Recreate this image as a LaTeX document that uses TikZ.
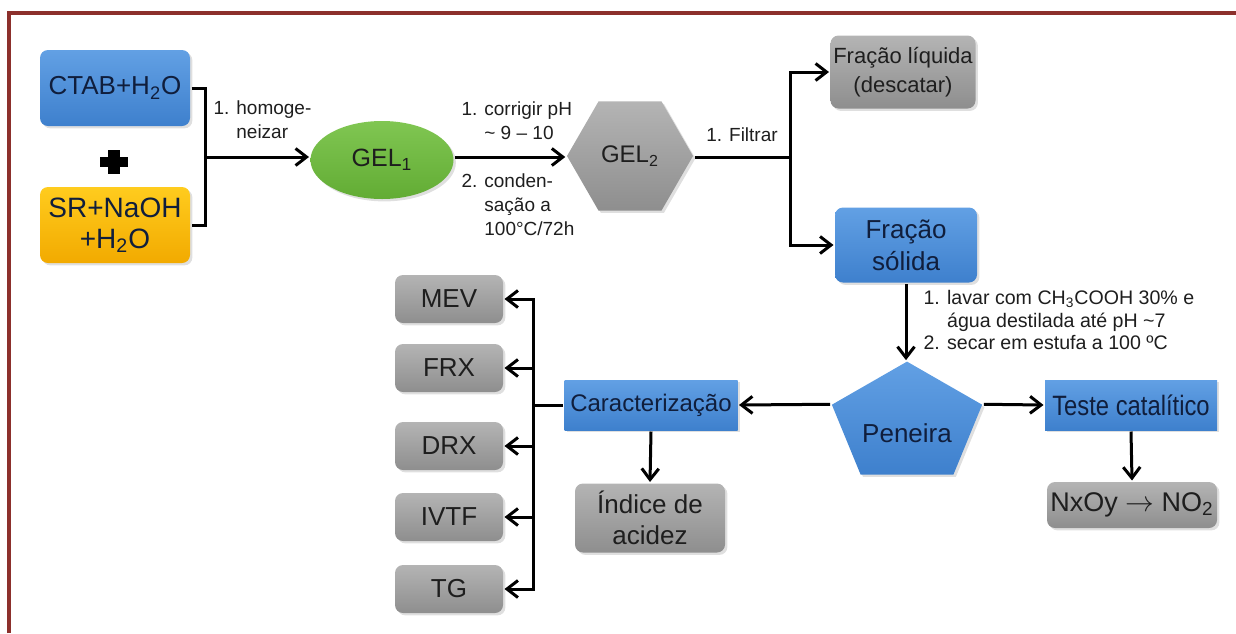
\documentclass[tikz,border=0pt]{standalone}
\usepackage{fontspec}
\setmainfont{Liberation Sans}
\newfontfamily\narrowfont[FakeStretch=0.85]{Liberation Sans}
\usetikzlibrary{shapes.geometric,positioning,arrows.meta,calc,shadows}

\definecolor{frameRed}{RGB}{140,48,44}
\definecolor{blueTop}{RGB}{98,160,228}
\definecolor{blueBot}{RGB}{62,128,205}
\definecolor{greyTop}{RGB}{180,180,180}
\definecolor{greyBot}{RGB}{142,142,142}
\definecolor{greenTop}{RGB}{128,198,82}
\definecolor{greenBot}{RGB}{98,172,52}
\definecolor{yellowTop}{RGB}{255,204,30}
\definecolor{yellowBot}{RGB}{242,170,0}
\definecolor{navyText}{RGB}{16,30,60}
\definecolor{darkText}{RGB}{30,30,30}

\begin{document}
\begin{tikzpicture}[x=0.5pt,y=0.5pt,line width=1.5pt,
	>={Straight Barb[length=5.5pt,width=8.5pt]},
	bigtext/.style={font=\fontsize{13}{15.5}\selectfont,align=center,inner sep=0pt},
	steptext/.style={font=\fontsize{9.5}{12}\selectfont,align=left,inner sep=0pt,text=darkText},
	boxshadow/.style={drop shadow={shadow xshift=1.2pt,shadow yshift=-1.2pt,opacity=0.25}},
	bluebox/.style={bigtext,boxshadow,top color=blueTop,bottom color=blueBot,text=navyText},
	greybox/.style={bigtext,boxshadow,top color=greyTop,bottom color=greyBot,text=darkText,rounded corners=4pt},
	yellowbox/.style={bigtext,boxshadow,top color=yellowTop,bottom color=yellowBot,text=navyText,rounded corners=4pt},
	greenell/.style={bigtext,boxshadow,ellipse,top color=greenTop,bottom color=greenBot,text=darkText},
	greyhex/.style={bigtext,boxshadow,regular polygon,regular polygon sides=6,top color=greyTop,bottom color=greyBot,text=darkText}]
	\useasboundingbox (0,0) rectangle (1236,-633);
	
	%% Frame
	\draw[frameRed,line width=1.6pt] (9,-633) -- (9,-13) -- (1236,-13);
	
	%% Reagents
	\node (ctab) [bluebox,rounded corners=4pt,minimum width=75pt,minimum height=38pt] at (115,-88) 
	{CTAB+H\textsubscript{2}O};
	\node (sr) [yellowbox,minimum width=75pt,minimum height=38pt,font=\fontsize{14}{15.5}\selectfont] at (115,-225) 
	{SR+NaOH\\+H\textsubscript{2}O};
	\coordinate (plus) at (114,-162);
	\fill ($(plus)+(-14,-5)$) rectangle ($(plus)+(14,5)$);
	\fill ($(plus)+(-6,-12)$) rectangle ($(plus)+(6,12)$);
	
	%% Gels
	\node (gel1) [greenell,minimum width=71.5pt,minimum height=39pt,font=\fontsize{12.5}{15}\selectfont] at (382,-160) 
	{GEL\textsubscript{1}};
	\node (gel2) [greyhex,minimum size=63pt,font=\fontsize{12}{15}\selectfont] at (630,-156) 
	{GEL\textsubscript{2}};
	
	\coordinate (merge) at (205,-157);
	\draw (ctab.east) -| (merge) |- (sr.east);
	\draw[->] (merge) -- (merge -| gel1.west);
	\node (homog) [steptext,anchor=west] at (212,-120) {1. homoge-\\\phantom{1. }neizar};
	
	\draw[->] (gel1.east |- merge) -- (gel2.west |- merge);
	\node (corr) [steptext,anchor=west] at (460,-121) {1. corrigir pH\\\phantom{1. }\textasciitilde{} 9 -- 10};
	\node (cond) [steptext,anchor=west] at (460,-205) {2. conden-\\\phantom{2. }sação a\\\phantom{2. }100°C/72h};
	
	%% Filtration
	\node (liq) [greybox,minimum width=72.5pt,minimum height=36.5pt,font=\fontsize{11}{14.5}\selectfont] at (903,-72) 
	{Fração líquida\\(descatar)};
	\node (sol) [bluebox,rounded corners=4pt,minimum width=71pt,minimum height=37.5pt,font=\fontsize{13}{16}\selectfont] at (906,-245) 
	{Fração\\sólida};
	
	\coordinate (fork) at (790,-157);
	\draw (gel2.east |- fork) -- (fork);
	\draw[->] (fork) |- (liq.west);
	\draw[->] (fork) |- (sol.west);
	\node (filt) [steptext] at (742,-135) {1. Filtrar};
	
	%% Sieve
	\coordinate (penC) at (907,-424);
	\node (pen) [bluebox,regular polygon,regular polygon sides=5,minimum size=79pt,yscale=0.79,text height=23pt,text depth=0pt] at (penC) 
	{\scalebox{1}[1.266]{Peneira}};
	\draw[->] (sol.south) -- (sol.south |- pen.corner 1);
	\node (wash) [steptext,anchor=west,font=\fontsize{9.8}{11.25}\selectfont] at (922,-320) 
	{1. lavar com CH\textsubscript{3}COOH 30\% e\\\phantom{1. }água destilada até pH \textasciitilde7\\2. secar em estufa a 100 ºC};
	
	%% Catalytic test
	\node (teste) [bluebox,minimum width=86pt,minimum height=25pt,font=\narrowfont\fontsize{14}{16}\selectfont] at (1131,-405) 
	{Teste catalítico};
	\node (nox) [greybox,minimum width=85pt,minimum height=23pt,font=\fontsize{13.5}{16}\selectfont] at (1132,-505) 
	{NxOy $\rightarrow$ NO\textsubscript{2}};
	\draw[->] (pen.corner 5) -- (teste.west);
	\draw[->] (teste.south) -- (nox.north);
	
	%% Characterization
	\node (car) [bluebox,minimum width=86.5pt,minimum height=25pt,font=\fontsize{12}{15}\selectfont] at (651,-405) 
	{Caracterização};
	\node (ind) [greybox,minimum width=75pt,minimum height=34.5pt] at (650,-518) 
	{Índice de\\acidez};
	\draw[->] (pen.corner 2) -- (car.east);
	\draw[->] (car.south) -- (ind.north);
	
	\foreach \name/\lab/\y in {mev/MEV/299,frx/FRX/368,drx/DRX/446,ivtf/IVTF/517,tg/TG/589}
	\node (\name) [greybox,minimum width=54pt,minimum height=24pt] at (449,-\y) {\lab};
	
	\coordinate (branch) at (533,-405);
	\draw (car.west) -- (branch);
	\draw[line cap=rect] (branch |- mev.east) -- (branch |- tg.east);
	\foreach \name in {mev,frx,drx,ivtf,tg}
	\draw[->] (branch |- \name.east) -- (\name.east);
\end{tikzpicture}
\end{document}
